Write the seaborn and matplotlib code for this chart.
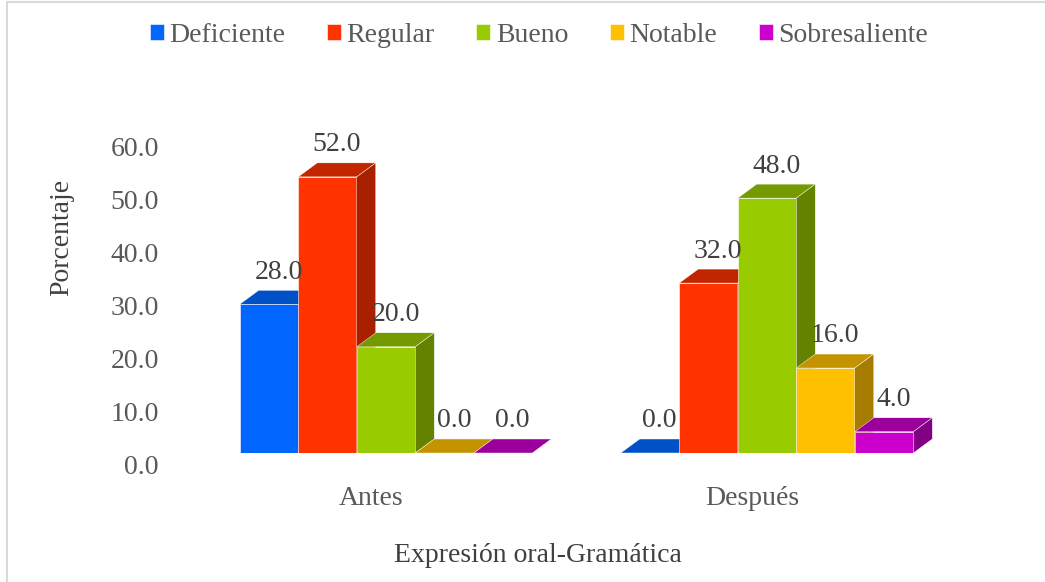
import numpy as np
import pandas as pd
import matplotlib
matplotlib.use("Agg")
import matplotlib.pyplot as plt
import matplotlib.transforms as mtransforms
from matplotlib.patches import Polygon
from matplotlib.lines import Line2D
import seaborn as sns

# ---------------- data ----------------
momentos = ["Antes", "Después"]
niveles = ["Deficiente", "Regular", "Bueno", "Notable", "Sobresaliente"]
antes = [28.0, 52.0, 20.0, 0.0, 0.0]
despues = [0.0, 32.0, 48.0, 16.0, 4.0]
yticks = [0, 10, 20, 30, 40, 50, 60]

front_colors = ["#0066FF", "#FF3300", "#99CC00", "#FFC000", "#CC00CC"]
top_colors = ["#0050C8", "#C22600", "#749A00", "#C49300", "#9C009C"]
side_colors = ["#0044AA", "#A82000", "#628200", "#A57B00", "#820082"]

sns.set_theme(style="white")
plt.rcParams["font.family"] = ["Liberation Serif", "DejaVu Serif"]

df = pd.DataFrame({
    "Momento": np.repeat(momentos, len(niveles)),
    "Nivel": niveles * len(momentos),
    "Porcentaje": antes + despues,
})

W, H = 1045, 582
fig = plt.figure(figsize=(W / 100, H / 100), dpi=100)
ax_l, ax_r, ax_b, ax_t = 195.5, 957.5, 453.0, 134.4
ax = fig.add_axes([ax_l / W, 1 - ax_b / H, (ax_r - ax_l) / W, (ax_b - ax_t) / H])

sns.barplot(data=df, x="Momento", y="Porcentaje", hue="Nivel", hue_order=niveles,
            order=momentos, palette=front_colors, saturation=1, width=0.768,
            dodge=True, ax=ax, edgecolor="#ffffff", linewidth=0.4, legend=True)

ax.set_xlim(-0.5, 1.5)
ax.set_ylim(0, 60)
for s in ax.spines.values():
    s.set_visible(False)
ax.grid(False)

FS = 20
tick_col = "#595959"
ax.set_yticks(yticks)
ax.set_yticklabels([f"{v:.1f}" for v in yticks])
ax.tick_params(axis="y", length=0, pad=26.5, labelsize=FS, labelcolor=tick_col)
ax.tick_params(axis="x", length=0, pad=23.5, labelsize=FS, labelcolor=tick_col)
for lab in ax.get_yticklabels():
    lab.set_transform(lab.get_transform() + mtransforms.ScaledTranslation(0, -12 / 100, fig.dpi_scale_trans))
for lab in ax.get_xticklabels():
    lab.set_transform(lab.get_transform() + mtransforms.ScaledTranslation(-15 / 100, 0, fig.dpi_scale_trans))

# 3D depth in data units
p0 = ax.transData.transform((0, 0))
p1 = ax.transData.transform((1, 1))
DX_PX, DY_PX = 19.0, 14.0
dx = DX_PX / (p1[0] - p0[0])
dy = DY_PX / (p1[1] - p0[1])

for i, cont in enumerate(ax.containers):
    for bar in cont:
        x0, w, h = bar.get_x(), bar.get_width(), bar.get_height()
        z = 3 + i * 0.1
        bar.set_zorder(z)
        top = Polygon([(x0, h), (x0 + w, h), (x0 + w + dx, h + dy), (x0 + dx, h + dy)],
                      closed=True, facecolor=top_colors[i], edgecolor="#ffffff",
                      linewidth=0.3, zorder=z + 0.01)
        ax.add_patch(top)
        if h > 0:
            side = Polygon([(x0 + w, 0), (x0 + w + dx, dy), (x0 + w + dx, h + dy), (x0 + w, h)],
                           closed=True, facecolor=side_colors[i], edgecolor="#ffffff",
                           linewidth=0.3, zorder=z + 0.02)
            ax.add_patch(side)
        ax.annotate(f"{h:.1f}", xy=(x0 + w / 2 + dx / 2, h + dy), xytext=(0, 4),
                    textcoords="offset points", ha="center", va="bottom",
                    fontsize=FS, color="#404040", zorder=10, annotation_clip=False)

# legend
handles, labels = ax.get_legend_handles_labels()
ax.get_legend().remove()
fig.legend(handles, labels, loc="center", bbox_to_anchor=(539 / W, 1 - 35.5 / H),
           ncol=5, frameon=False, fontsize=FS, labelcolor=tick_col,
           handlelength=0.5, handleheight=0.5, handletextpad=0.2,
           columnspacing=1.5, borderaxespad=0)

# axis titles
ax.set_xlabel("Expresión oral-Gramática", fontsize=FS, color="#404040")
ax.set_ylabel("Porcentaje", fontsize=FS, color="#404040")
ax.xaxis.label.set_va("center")
ax.yaxis.label.set_va("center")
ax.yaxis.label.set_ha("center")
ax.xaxis.set_label_coords((538 - ax_l) / (ax_r - ax_l), (ax_b - 555) / (ax_b - ax_t))
ax.yaxis.set_label_coords((62 - ax_l) / (ax_r - ax_l), (ax_b - 237) / (ax_b - ax_t))

# chart-area border (partially visible)
fig.add_artist(Line2D([6.5 / W, 1], [1 - 1.5 / H, 1 - 1.5 / H], color="#d9d9d9", lw=1.5,
                      transform=fig.transFigure))
fig.add_artist(Line2D([6.5 / W, 6.5 / W], [0, 1 - 1.5 / H], color="#d9d9d9", lw=1.5,
                      transform=fig.transFigure))

fig.savefig("out.png", dpi=100, facecolor="white")
